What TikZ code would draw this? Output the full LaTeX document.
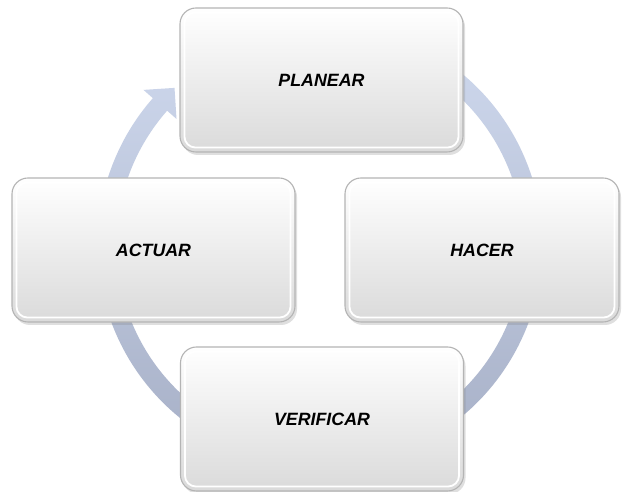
\documentclass[tikz,border=0pt]{standalone}
\usepackage{fontspec}
\setmainfont{Liberation Sans}
\usetikzlibrary{calc,shadows}
\definecolor{arctop}{HTML}{CDD7EC}
\definecolor{arcbot}{HTML}{A3ACC3}
\definecolor{boxedge}{HTML}{B4B4B4}
\definecolor{boxbot}{HTML}{DADADA}
\begin{document}
\begin{tikzpicture}[x=1pt,y=1pt,
  box/.style={rounded corners=16pt, minimum width=283pt, minimum height=144pt,
    draw=boxedge, line width=1.1pt, top color=white, bottom color=boxbot,
    drop shadow={shadow xshift=2pt, shadow yshift=-3pt, opacity=0.25},
    font=\bfseries\itshape\fontsize{17.8}{20}\selectfont, text=black},
  rim/.style={rounded corners=11pt, draw=white, line width=1.8pt},
  cyclearrow/.style={top color=arctop, bottom color=arcbot}]
\useasboundingbox[fill=white] (0,0) rectangle (622,492);
\coordinate (c) at (320,247);
\def\R{213}\def\w{9.5}\def\hw{22}\def\L{22}
\def\sa{60}\def\ea{-221.3}
\path[cyclearrow]
  ($(c)+(\sa:\R+\w)$) arc[start angle=\sa, end angle=\ea, radius=\R+\w]
  -- ($(c)+(\ea:\R+\hw)$)
  -- ($(c)+(\ea:\R)+(\ea-90:\L)$)
  -- ($(c)+(\ea:\R-\hw)$)
  -- ($(c)+(\ea:\R-\w)$) arc[start angle=\ea, end angle=\sa, radius=\R-\w]
  -- cycle;
\node[box] (plan) at (321.5,412) {PLANEAR};
\node[box, minimum width=274pt] (hacer) at (482,242) {HACER};
\node[box] (verif) at (322,73) {VERIFICAR};
\node[box] (actuar) at (153.5,242) {ACTUAR};
\foreach \n in {plan,hacer,verif,actuar}{
  \draw[rim] ($(\n.north west)+(5,-5)$) rectangle ($(\n.south east)+(-5,5)$);
}
\end{tikzpicture}
\end{document}
